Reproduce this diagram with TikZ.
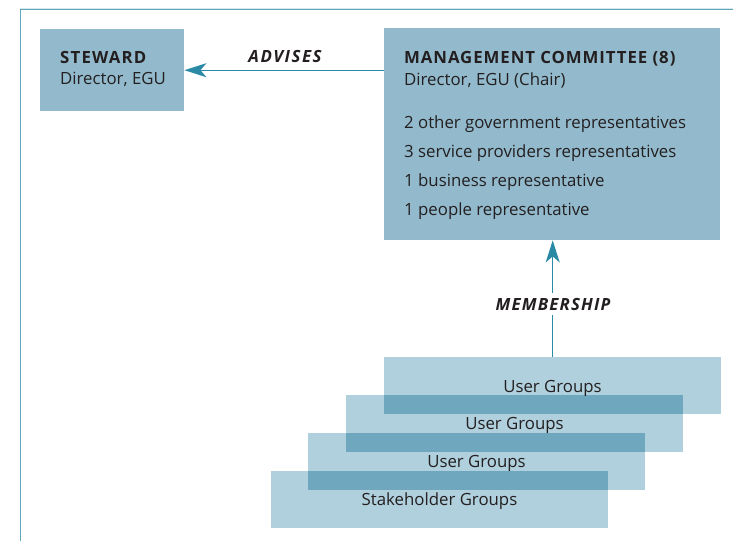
\documentclass[tikz,border=0pt]{standalone}
\usepackage{fontspec}
\setmainfont{Open Sans}
\usetikzlibrary{arrows.meta}
\definecolor{boxblue}{HTML}{92BACC}
\definecolor{uglight}{HTML}{B0D0DD}
\definecolor{ugdark}{HTML}{6FA8BE}
\definecolor{arrowteal}{HTML}{2A8AA6}
\definecolor{frameteal}{HTML}{5FA8BA}
\definecolor{framelight}{HTML}{D6E7ED}
\definecolor{txt}{HTML}{231F20}
\newcommand{\myfs}{\fontsize{16.8}{19}\selectfont}
\newcommand{\bfsp}[1]{\bfseries\addfontfeature{LetterSpace=#1}}
\begin{document}
\begin{tikzpicture}[x=1pt,y=-1pt,
  bluebox/.style={fill=boxblue, draw=none, anchor=north west, inner sep=0pt},
  ugbox/.style={fill=uglight, draw=none, anchor=north west, inner sep=0pt,
    minimum width=337pt, minimum height=57pt},
  ugtext/.style={font=\myfs, text=txt, inner sep=0pt, anchor=base},
  lbl/.style={font=\myfs, text=txt, inner sep=0pt, anchor=base west},
  conn/.style={draw=arrowteal, line width=1.4pt},
  tipl/.style={-{Stealth[length=22pt,width=14pt,inset=6pt]}}
]
\useasboundingbox (0,0) rectangle (733,541);
% frame
\draw[framelight, line width=1pt] (20,8.3) -- (733,8.3);
\draw[frameteal, line width=1.4pt] (733,9.7) -- (20.7,9.7) -- (20.7,541);

% steward
\node[bluebox, minimum width=144pt, minimum height=82pt] (steward) at (40,29) {};
\node[lbl] (stewardt) at (60,63) {\bfsp{7}STEWARD};
\node[lbl] (stewardd) at (60,84.5) {Director, EGU};

% management committee
\node[bluebox, minimum width=336pt, minimum height=212pt] (mgmt) at (384,28) {};
\node[lbl] (mgmtt) at (404,63) {\bfsp{5.5}MANAGEMENT COMMITTEE (8)};
\node[lbl] (mgmtd) at (404,85.5) {Director, EGU (Chair)};
\node[lbl] (m1) at (404,128) {2 other government representatives};
\node[lbl] (m2) at (404,157) {3 service providers representatives};
\node[lbl] (m3) at (404,186.5) {1 business representative};
\node[lbl] (m4) at (404,215) {1 people representative};

% advises
\draw[conn, tipl] (steward.east -| mgmt.west) -- (steward.east);
\node[font=\myfs, text=txt, inner sep=0pt, anchor=base] (adv) at (285,62.5) {\bfsp{9}\itshape ADVISES};

% user groups
\node[ugbox] (ug1) at (384,357) {};
\node[ugbox] (ug2) at (346,395) {};
\node[ugbox] (ug3) at (308,433) {};
\node[ugbox] (ug4) at (271,470.5) {};
\fill[ugdark] (ug1.south west) rectangle (ug2.north east);
\fill[ugdark] (ug2.south west) rectangle (ug3.north east);
\fill[ugdark] (ug3.south west) rectangle (ug4.north east);
\node[ugtext] (ug1t) at (552.5,392) {User Groups};
\node[ugtext] (ug2t) at (514.5,429.5) {User Groups};
\node[ugtext] (ug3t) at (476.5,467) {User Groups};
\node[ugtext] (ug4t) at (439.5,505) {Stakeholder Groups};

% membership
\draw[conn, tipl] (ug1.north) -- (mgmt.south -| ug1.north);
\node[font=\myfs, text=txt, fill=white,
  inner xsep=3pt, inner ysep=5pt, anchor=base] (memb) at (553,310) {\bfsp{7}\itshape MEMBERSHIP};
\end{tikzpicture}
\end{document}
